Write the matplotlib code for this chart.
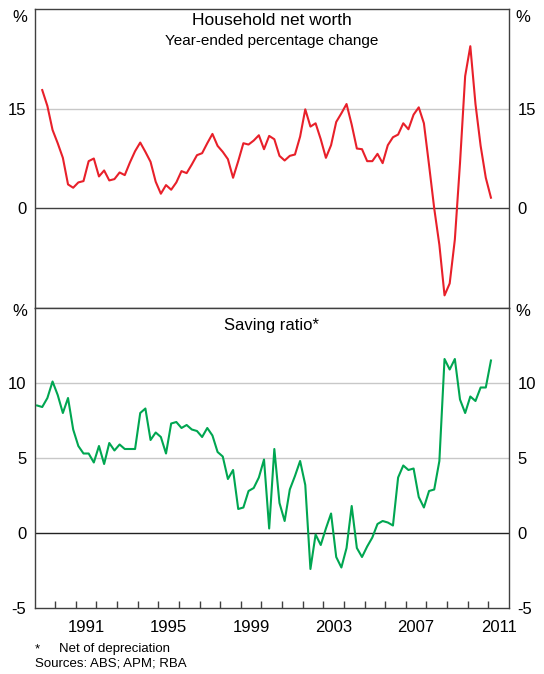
import numpy as np
import matplotlib
matplotlib.use("Agg")
import matplotlib.pyplot as plt

plt.rcParams['font.family'] = ['Liberation Sans', 'DejaVu Sans']

# quarterly series, first quarter of each given as year + quarter offset
nw_start = 1989.25      # 1989 Q2
sr_start = 1989.0       # 1989 Q1

net_worth = [17.8, 15.4, 11.8, 9.8, 7.6, 3.6, 3.1, 3.9, 4.1, 7.1, 7.5, 4.8,
             5.7, 4.2, 4.4, 5.4, 5.0, 6.9, 8.6, 9.9, 8.5, 7.0, 4.0, 2.2,
             3.5, 2.8, 3.9, 5.6, 5.3, 6.6, 8.0, 8.3, 9.8, 11.2, 9.4, 8.5,
             7.4, 4.6, 7.1, 9.8, 9.6, 10.2, 11.0, 8.9, 10.9, 10.4, 7.9, 7.2,
             7.9, 8.1, 10.8, 14.9, 12.3, 12.8, 10.4, 7.6, 9.5, 13.0, 14.3, 15.7,
             12.6, 9.0, 8.9, 7.1, 7.1, 8.2, 6.8, 9.5, 10.7, 11.1, 12.8, 11.9,
             14.1, 15.2, 12.8, 6.5, 0.0, -5.5, -13.1, -11.3, -4.7, 6.8, 19.9, 24.4,
             15.7, 9.4, 4.6, 1.6]

saving_ratio = [8.5, 8.4, 9.0, 10.1, 9.2, 8.0, 9.0, 6.9, 5.8, 5.3, 5.3, 4.7,
                5.8, 4.6, 6.0, 5.5, 5.9, 5.6, 5.6, 5.6, 8.0, 8.3, 6.2, 6.7,
                6.4, 5.3, 7.3, 7.4, 7.0, 7.2, 6.9, 6.8, 6.4, 7.0, 6.5, 5.4,
                5.1, 3.6, 4.2, 1.6, 1.7, 2.8, 3.0, 3.7, 4.9, 0.3, 5.6, 2.0,
                0.8, 2.9, 3.8, 4.8, 3.2, -2.4, -0.1, -0.8, 0.3, 1.3, -1.6, -2.3,
                -1.0, 1.8, -1.0, -1.6, -0.9, -0.3, 0.6, 0.8, 0.7, 0.5, 3.7, 4.5,
                4.2, 4.3, 2.4, 1.7, 2.8, 2.9, 4.8, 11.6, 10.9, 11.6, 8.9, 8.0,
                9.1, 8.8, 9.7, 9.7, 11.5]

year_labels = ['1991', '1995', '1999', '2003', '2007', '2011']
top_ticks = [0, 15]
top_labels = ['0', '15']
bot_ticks = [-5, 0, 5, 10]
bot_labels = ['-5', '0', '5', '10']

nw_x = nw_start + 0.125 + 0.25 * np.arange(len(net_worth))
sr_x = sr_start + 0.125 + 0.25 * np.arange(len(saving_ratio))

red = '#e8202a'
green = '#00a651'
frame = '#404040'
grid = '#c8c8c8'
fs = 12

fig = plt.figure(figsize=(5.44, 6.74), dpi=100)
ax1 = fig.add_axes([34.5 / 544, 1 - 308 / 674, 474.5 / 544, 299 / 674])
ax2 = fig.add_axes([34.5 / 544, 1 - 608 / 674, 474.5 / 544, 300 / 674])

for ax in (ax1, ax2):
    ax.set_xlim(1989, 2012)
    for s in ax.spines.values():
        s.set_color(frame)
        s.set_linewidth(1.0)
    ax.tick_params(axis='y', length=0, labelsize=fs, colors='black', pad=6)
    ax.tick_params(axis='y', labelright=True, right=False)

# top panel
ax1.set_ylim(-15, 30)
ax1.axhline(15, color=grid, lw=1.0, zorder=1)
ax1.axhline(0, color=frame, lw=1.0, zorder=1)
ax1.plot(nw_x, net_worth, color=red, lw=1.5, zorder=3)
ax1.set_yticks(top_ticks)
ax1.set_yticklabels(top_labels)
ax1.set_xticks([])
ax1.text(0.5, 0.96, 'Household net worth', transform=ax1.transAxes,
         ha='center', va='center', fontsize=12.5)
ax1.text(0.5, 0.893, 'Year-ended percentage change', transform=ax1.transAxes,
         ha='center', va='center', fontsize=11)

# bottom panel
ax2.set_ylim(-5, 15)
for g in (5, 10):
    ax2.axhline(g, color=grid, lw=1.0, zorder=1)
ax2.axhline(0, color='#222222', lw=1.0, zorder=1)
ax2.plot(sr_x, saving_ratio, color=green, lw=1.5, zorder=3)
ax2.set_yticks(bot_ticks)
ax2.set_yticklabels(bot_labels)
ax2.text(0.5, 0.943, 'Saving ratio*', transform=ax2.transAxes,
         ha='center', va='center', fontsize=12)

ax2.set_xticks(np.arange(1990, 2012))
ax2.set_xticklabels([])
ax2.set_xticks([int(y) + 0.5 for y in year_labels], minor=True)
ax2.set_xticklabels(year_labels, minor=True)
ax2.tick_params(axis='x', which='major', direction='in', length=5, width=1.0, color=frame)
ax2.tick_params(axis='x', which='minor', length=0, labelsize=fs, pad=9)

# unit labels
for yp in (17, 312):
    fig.text(27.5 / 544, 1 - yp / 674, '%', ha='right', va='center', fontsize=fs)
    fig.text(515 / 544, 1 - yp / 674, '%', ha='left', va='center', fontsize=fs)

fig.text(35 / 544, 1 - 649 / 674, '*', ha='left', va='center', fontsize=9.5)
fig.text(59 / 544, 1 - 649 / 674, 'Net of depreciation', ha='left', va='center', fontsize=9.5)
fig.text(35 / 544, 1 - 664 / 674, 'Sources: ABS; APM; RBA', ha='left', va='center', fontsize=9.5)

fig.savefig('out.png', dpi=100)
